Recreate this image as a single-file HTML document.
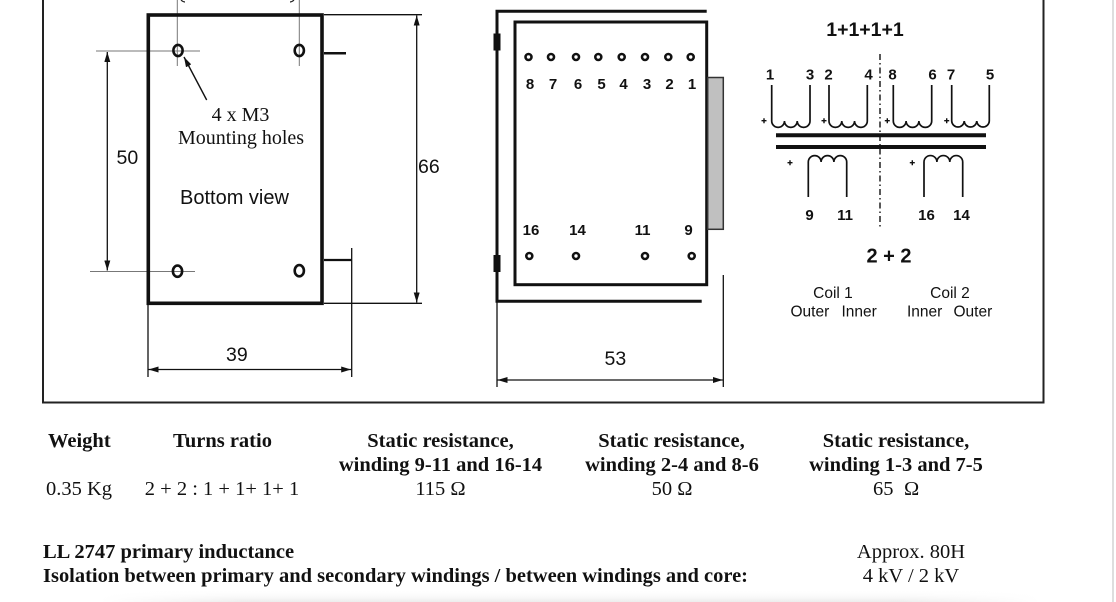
<!DOCTYPE html>
<html><head><meta charset="utf-8"><style>
html,body{margin:0;padding:0;background:#fff;}
svg{display:block;}
.s{font-family:"Liberation Sans",Arial,sans-serif;fill:#111;}
.r{font-family:"Liberation Serif","Times New Roman",serif;fill:#111;}
.b{font-weight:bold;}
</style></head><body>
<svg width="1116" height="602" viewBox="0 0 1116 602" xmlns="http://www.w3.org/2000/svg" xml:space="preserve">
<defs>
<marker id="a" viewBox="0 0 10 6" refX="10" refY="3" markerWidth="10" markerHeight="6" orient="auto-start-reverse" markerUnits="userSpaceOnUse"><path d="M0,0 L10,3 L0,6 z" fill="#111"/></marker>
<linearGradient id="sh" x1="0" y1="0" x2="0" y2="1"><stop offset="0" stop-color="#fff" stop-opacity="0"/><stop offset="1" stop-color="#ececec"/></linearGradient>
<linearGradient id="shx" x1="0" y1="0" x2="1" y2="0"><stop offset="0" stop-color="#fff" stop-opacity="1"/><stop offset="0.15" stop-color="#fff" stop-opacity="0"/><stop offset="0.85" stop-color="#fff" stop-opacity="0"/><stop offset="1" stop-color="#fff" stop-opacity="1"/></linearGradient>
</defs>
<rect width="1116" height="602" fill="#fff"/>
<rect x="100" y="590" width="940" height="12" fill="url(#sh)"/>
<rect x="100" y="590" width="940" height="12" fill="url(#shx)"/>
<!-- frame -->
<path d="M43,0 V402.5 H1043.5 V0" fill="none" stroke="#222" stroke-width="2"/>
<line x1="1113" y1="0" x2="1113" y2="602" stroke="#d4d4d4" stroke-width="1.5"/>

<!-- LEFT VIEW -->
<g stroke="#777" stroke-width="1" fill="none">
<line x1="177.3" y1="0" x2="177.3" y2="66"/>
<line x1="299.3" y1="0" x2="299.3" y2="66"/>
<line x1="96" y1="51" x2="200" y2="51"/>
<line x1="90" y1="271.5" x2="195" y2="271.5"/>
</g>
<path d="M181,0 Q183,2 185,2 M294,0 Q292,2 290,2" stroke="#222" stroke-width="1.2" fill="none"/>
<rect x="148.3" y="15" width="173.7" height="288.3" fill="none" stroke="#111" stroke-width="3.6"/>
<g fill="none" stroke="#111" stroke-width="2.6">
<ellipse cx="178" cy="50.5" rx="4.6" ry="5.6"/>
<ellipse cx="299.3" cy="50.5" rx="4.6" ry="5.6"/>
<ellipse cx="177.5" cy="271.2" rx="4.6" ry="5.6"/>
<ellipse cx="299.3" cy="270.7" rx="4.6" ry="5.6"/>
</g>
<g stroke="#111" fill="none">
<line x1="324" y1="53.3" x2="346" y2="53.3" stroke-width="2.5"/>
<line x1="324" y1="260" x2="352" y2="260" stroke-width="2.2"/>
<line x1="351.7" y1="248" x2="351.7" y2="377" stroke-width="1.3"/>
<line x1="324" y1="14.7" x2="422" y2="14.7" stroke-width="1.3"/>
<line x1="324" y1="303.3" x2="422" y2="303.3" stroke-width="1.3"/>
<line x1="416.7" y1="15.5" x2="416.7" y2="302.5" stroke-width="1.3" marker-start="url(#a)" marker-end="url(#a)"/>
<line x1="107.3" y1="52" x2="107.3" y2="270.5" stroke-width="1.3" marker-start="url(#a)" marker-end="url(#a)"/>
<line x1="148" y1="305" x2="148" y2="377" stroke-width="1.3"/>
<line x1="148.5" y1="369.5" x2="351.2" y2="369.5" stroke-width="1.3" marker-start="url(#a)" marker-end="url(#a)"/>
<line x1="206.7" y1="100" x2="184" y2="57" stroke-width="1.4" marker-end="url(#a)"/>
</g>
<text class="r" x="240.5" y="121" font-size="20" text-anchor="middle">4 x M3</text>
<text class="r" x="241" y="144" font-size="20" text-anchor="middle">Mounting holes</text>
<text class="s" x="180" y="204" font-size="20">Bottom view</text>
<text class="s" x="116.5" y="164" font-size="19.5">50</text>
<text class="s" x="418" y="173" font-size="19.5">66</text>
<text class="s" x="226" y="361" font-size="19.5">39</text>

<!-- MIDDLE VIEW -->
<g stroke="#111" fill="none" stroke-width="3">
<path d="M706.7,11.3 H497 V301.3 H701.7"/>
<rect x="515" y="22" width="191.7" height="262.7"/>
</g>
<rect x="493.5" y="33.5" width="7" height="17" fill="#111"/>
<rect x="493.5" y="255" width="7" height="17" fill="#111"/>
<rect x="707.7" y="77.5" width="15.6" height="151.8" fill="#c0c0c0" stroke="#333" stroke-width="1.5"/>
<g fill="none" stroke="#111" stroke-width="2.6">
<circle cx="528.5" cy="57" r="3"/><circle cx="551" cy="57" r="3"/><circle cx="576" cy="57" r="3"/><circle cx="598.3" cy="57" r="3"/><circle cx="621.7" cy="57" r="3"/><circle cx="645" cy="57" r="3"/><circle cx="668.3" cy="57" r="3"/><circle cx="690.7" cy="57" r="3"/>
<circle cx="529.3" cy="256" r="3"/><circle cx="576" cy="256" r="3"/><circle cx="645" cy="256" r="3"/><circle cx="691.7" cy="256" r="3"/>
</g>
<g class="s b" font-size="15" text-anchor="middle">
<text x="530" y="89">8</text><text x="553" y="89">7</text><text x="578" y="89">6</text><text x="601.5" y="89">5</text><text x="623.5" y="89">4</text><text x="647" y="89">3</text><text x="669.5" y="89">2</text><text x="692" y="89">1</text>
<text x="531" y="235">16</text><text x="577.5" y="235">14</text><text x="642.5" y="235">11</text><text x="688.5" y="235">9</text>
</g>
<g stroke="#111" fill="none" stroke-width="1.3">
<line x1="723.3" y1="275" x2="723.3" y2="387"/>
<line x1="497" y1="302" x2="497" y2="387"/>
<line x1="497.5" y1="380" x2="722.8" y2="380" marker-start="url(#a)" marker-end="url(#a)"/>
</g>
<text class="s" x="604.5" y="365" font-size="19.5">53</text>

<!-- SCHEMATIC -->
<text class="s b" x="865" y="36" font-size="19.5" text-anchor="middle">1+1+1+1</text>
<g class="s b" font-size="15" text-anchor="middle">
<text x="770" y="79.5">1</text><text x="810" y="79.5">3</text><text x="828.5" y="79.5">2</text><text x="868.5" y="79.5">4</text>
<text x="892.5" y="79.5">8</text><text x="932.5" y="79.5">6</text><text x="951" y="79.5">7</text><text x="990" y="79.5">5</text>
<text x="809.5" y="220">9</text><text x="845" y="220">11</text><text x="926.5" y="220">16</text><text x="961.5" y="220">14</text>
</g>
<line x1="880" y1="54" x2="880" y2="229" stroke="#111" stroke-width="1.4" stroke-dasharray="6 3 1.5 3"/>
<g fill="none" stroke="#111" stroke-width="1.7">
<path d="M771.7,85 V121 a6.38,6.38 0 0 0 12.77,0 a6.38,6.38 0 0 0 12.77,0 a6.38,6.38 0 0 0 12.77,0 V85"/>
<path d="M829,85 V121 a6.38,6.38 0 0 0 12.77,0 a6.38,6.38 0 0 0 12.77,0 a6.38,6.38 0 0 0 12.77,0 V85"/>
<path d="M893.3,85 V121 a6.4,6.4 0 0 0 12.8,0 a6.4,6.4 0 0 0 12.8,0 a6.4,6.4 0 0 0 12.8,0 V85"/>
<path d="M951.7,85 V121 a6.27,6.27 0 0 0 12.53,0 a6.27,6.27 0 0 0 12.53,0 a6.27,6.27 0 0 0 12.53,0 V85"/>
<path d="M808.3,197 V162 a6.4,6.4 0 0 1 12.8,0 a6.4,6.4 0 0 1 12.8,0 a6.4,6.4 0 0 1 12.8,0 V197"/>
<path d="M924,197 V162 a6.45,6.45 0 0 1 12.9,0 a6.45,6.45 0 0 1 12.9,0 a6.45,6.45 0 0 1 12.9,0 V197"/>
</g>
<g stroke="#111" stroke-width="4">
<line x1="776" y1="135.3" x2="986" y2="135.3"/>
<line x1="776" y1="147" x2="986" y2="147"/>
</g>
<g stroke="#111" stroke-width="1.4">
<path d="M761.5,120.7 h5 M764,118.2 v5"/>
<path d="M821.5,120.7 h5 M824,118.2 v5"/>
<path d="M884.8,120.7 h5 M887.3,118.2 v5"/>
<path d="M944.2,120.7 h5 M946.7,118.2 v5"/>
<path d="M787.5,162.7 h5 M790,160.2 v5"/>
<path d="M909.8,162.7 h5 M912.3,160.2 v5"/>
</g>
<text class="s b" x="889" y="262.5" font-size="20" text-anchor="middle">2 + 2</text>
<g class="s" font-size="15.5">
<text x="833" y="298" text-anchor="middle">Coil 1</text>
<text x="790.5" y="316.5">Outer</text>
<text x="841.5" y="316.5">Inner</text>
<text x="950" y="298" text-anchor="middle">Coil 2</text>
<text x="907" y="316.5">Inner</text>
<text x="953.5" y="316.5">Outer</text>
</g>

<!-- TABLE -->
<g class="r b" font-size="20.5">
<text x="48" y="447">Weight</text>
<text x="222.5" y="447" text-anchor="middle">Turns ratio</text>
<text x="440.5" y="447" text-anchor="middle">Static resistance,</text>
<text x="440.5" y="471" text-anchor="middle">winding 9-11 and 16-14</text>
<text x="671.5" y="447" text-anchor="middle">Static resistance,</text>
<text x="672" y="471" text-anchor="middle">winding 2-4 and 8-6</text>
<text x="896" y="447" text-anchor="middle">Static resistance,</text>
<text x="896" y="471" text-anchor="middle">winding 1-3 and 7-5</text>
<text x="43" y="558">LL 2747 primary inductance</text>
<text x="43" y="582" textLength="705" lengthAdjust="spacingAndGlyphs">Isolation between primary and secondary windings / between windings and core:</text>
</g>
<g class="r" font-size="20.5">
<text x="46" y="495">0.35 Kg</text>
<text x="222" y="495" text-anchor="middle">2 + 2 : 1 + 1+ 1+ 1</text>
<text x="440.5" y="495" text-anchor="middle">115 Ω</text>
<text x="672" y="495" text-anchor="middle">50 Ω</text>
<text x="873" y="495">65</text>
<text x="904" y="495">Ω</text>
<text x="911" y="558" text-anchor="middle">Approx. 80H</text>
<text x="911" y="582" text-anchor="middle">4 kV / 2 kV</text>
</g>
</svg>
</body></html>
